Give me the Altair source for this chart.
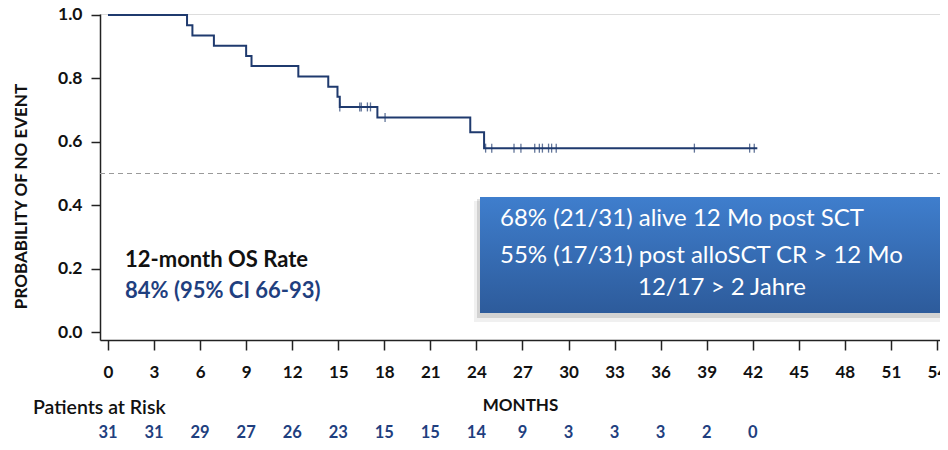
import altair as alt
import pandas as pd

# Kaplan-Meier step curve (months, survival probability)
step_months = [0, 5.15, 5.5, 6.9, 9.0, 9.35, 12.4, 14.35, 14.95, 15.1, 17.55, 23.6, 24.5, 42.3]
step_surv = [1.0, 0.968, 0.935, 0.903, 0.871, 0.839, 0.806, 0.774, 0.742, 0.710, 0.677, 0.630, 0.580, 0.580]

# censored observations
censor_months = [15.1, 16.4, 16.5, 16.9, 17.1, 18.05, 24.6, 25.0, 26.45, 26.9, 27.8,
                 28.1, 28.3, 28.7, 28.9, 29.2, 38.2, 41.8, 42.1]
censor_surv = [0.710, 0.710, 0.710, 0.710, 0.710, 0.677, 0.580, 0.580, 0.580, 0.580, 0.580,
               0.580, 0.580, 0.580, 0.580, 0.580, 0.580, 0.580, 0.580]

# patients at risk
risk_months = [0, 3, 6, 9, 12, 15, 18, 21, 24, 27, 30, 33, 36, 39, 42]
risk_counts = [31, 31, 29, 27, 26, 23, 15, 15, 14, 9, 3, 3, 3, 2, 0]

x_ticks = [0, 3, 6, 9, 12, 15, 18, 21, 24, 27, 30, 33, 36, 39, 42, 45, 48, 51, 54]
y_ticks = [0.0, 0.2, 0.4, 0.6, 0.8, 1.0]

box_lines = ["68% (21/31) alive 12 Mo post SCT", "55% (17/31) post alloSCT CR > 12 Mo", "12/17 > 2 Jahre"]
os_title = "12-month OS Rate"
os_value = "84% (95% CI 66-93)"

NAVY = "#1F3A6E"
BLUE_TXT = "#1F3F7F"
W, H = 840, 326

step_df = pd.DataFrame({"month": step_months, "surv": step_surv})
cens_df = pd.DataFrame({"month": censor_months, "surv": censor_surv})
risk_df = pd.DataFrame({"month": risk_months, "n": risk_counts})

xscale = alt.Scale(domain=[-0.52, 54.2], nice=False, zero=False)
yscale = alt.Scale(domain=[-0.0252, 1.00315], nice=False, zero=False)

x_axis = alt.Axis(values=x_ticks, title="MONTHS", grid=False, domainColor="#222", domainWidth=1.5,
                  tickColor="#222", tickWidth=1.5, tickSize=10, labelPadding=14,
                  labelFont="Lato", labelFontSize=17, labelFontWeight="bold", labelColor="#111",
                  titleFont="Lato", titleFontSize=17, titleFontWeight="bold", titleColor="#111",
                  titlePadding=17, labelFlush=False)
y_axis = alt.Axis(values=y_ticks, format=".1f", title="PROBABILITY OF NO EVENT", grid=False,
                  domainColor="#222", domainWidth=1.5, tickColor="#222", tickWidth=1.5, tickSize=9,
                  labelPadding=9, labelFont="Lato", labelFontSize=17.5, labelFontWeight="bold",
                  labelColor="#111", titleFont="Lato", titleFontSize=17, titleFontWeight="bold",
                  titleColor="#111", titleX=-70, titleY=182)

line = alt.Chart(step_df).mark_line(interpolate="step-after", color=NAVY, strokeWidth=2).encode(
    x=alt.X("month:Q", scale=xscale, axis=x_axis),
    y=alt.Y("surv:Q", scale=yscale, axis=y_axis),
)

ticks = alt.Chart(cens_df).mark_tick(orient="vertical", color=NAVY, size=9, thickness=1.3).encode(
    x=alt.X("month:Q", scale=xscale), y=alt.Y("surv:Q", scale=yscale)
)

half = alt.Chart(pd.DataFrame({"v": [0.5]})).mark_rule(
    color="#9a9a9a", strokeDash=[5, 4], strokeWidth=1
).encode(y=alt.Y("v:Q", scale=yscale), x=alt.value(0), x2=alt.value(W))

os_df = pd.DataFrame({"t": [os_title], "u": [os_value]})
os1 = alt.Chart(os_df).mark_text(align="left", baseline="middle", font="Lato", fontSize=22,
                                 fontWeight="bold", color="#111").encode(
    text="t:N", x=alt.value(25), y=alt.value(246))
os2 = alt.Chart(os_df).mark_text(align="left", baseline="middle", font="Lato", fontSize=22,
                                 fontWeight="bold", color=BLUE_TXT).encode(
    text="u:N", x=alt.value(25), y=alt.value(277))

box_df = pd.DataFrame({"a": [1]})
shadow2 = alt.Chart(box_df).mark_rect(color="#000", opacity=0.06).encode(
    x=alt.value(374), x2=alt.value(W), y=alt.value(187), y2=alt.value(308))
shadow1 = alt.Chart(box_df).mark_rect(color="#000", opacity=0.12).encode(
    x=alt.value(377), x2=alt.value(W), y=alt.value(185), y2=alt.value(304))
grad = alt.LinearGradient(gradient="linear", x1=0, y1=0, x2=0, y2=1,
                          stops=[alt.GradientStop(offset=0, color="#3F7ECD"),
                                 alt.GradientStop(offset=1, color="#2D5B9B")])
box = alt.Chart(box_df).mark_rect(color=grad).encode(
    x=alt.value(380), x2=alt.value(W), y=alt.value(183), y2=alt.value(299))

bl_df = pd.DataFrame({"line": box_lines, "px": [400, 400, 538], "py": [205, 242, 274]})
box_text = alt.Chart(bl_df).mark_text(align="left", baseline="middle", font="Lato", fontSize=24,
                                      color="white").encode(
    text="line:N", x=alt.X("px:Q", scale=None), y=alt.Y("py:Q", scale=None))

risk_label = alt.Chart(pd.DataFrame({"t": ["Patients at Risk"]})).mark_text(
    align="left", baseline="middle", font="Lato", fontSize=19.5, fontWeight=600, color="#111"
).encode(text="t:N", x=alt.value(-67), y=alt.value(394))

risk_text = alt.Chart(risk_df).mark_text(baseline="middle", font="Lato", fontSize=16.5,
                                         fontWeight="bold", color=BLUE_TXT).encode(
    x=alt.X("month:Q", scale=xscale), y=alt.value(419), text="n:Q")

chart = alt.layer(half, line, ticks, os1, os2, shadow2, shadow1, box, box_text, risk_label, risk_text).properties(
    width=W, height=H,
    autosize=alt.AutoSizeParams(type="none"),
    padding={"left": 92, "top": 6, "right": 0, "bottom": 102},
).configure_view(stroke=None).configure(background="white")

chart.save("out.html", embed_options={"renderer": "svg", "actions": False})
